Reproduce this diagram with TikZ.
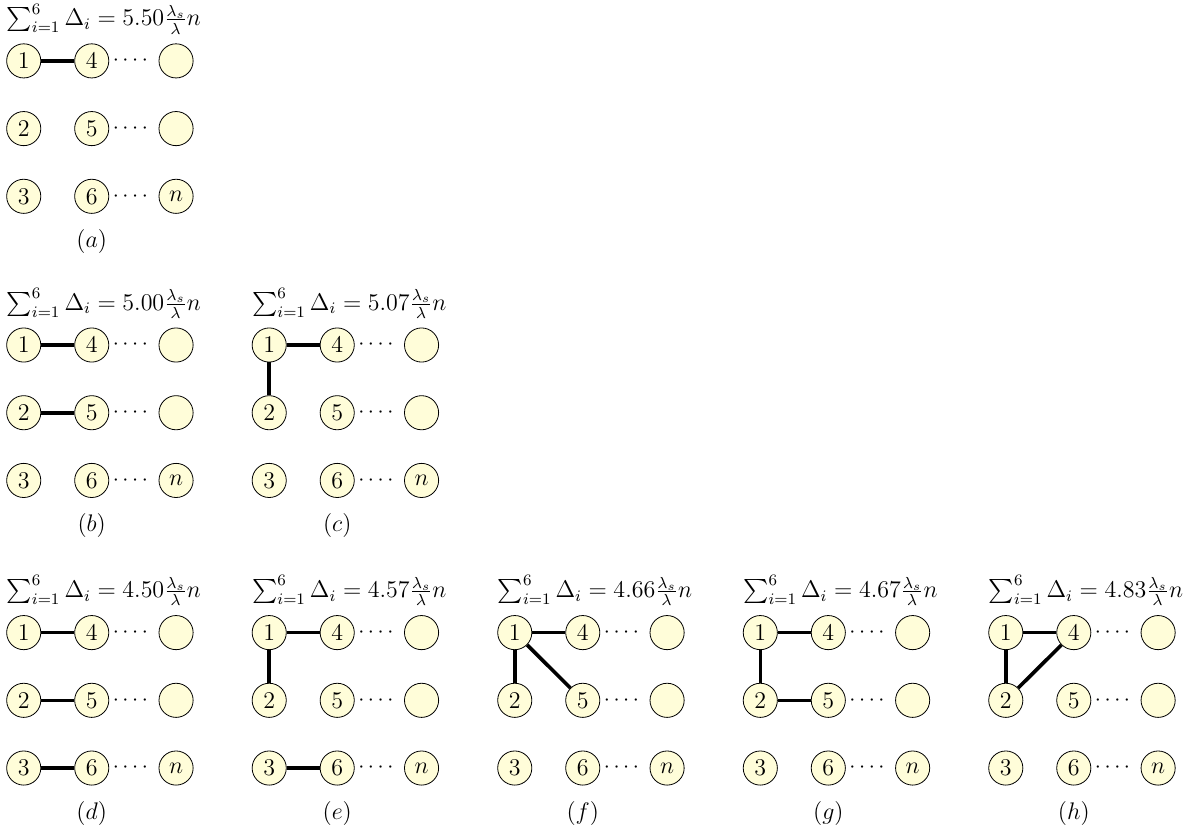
\documentclass[tikz,border=0pt,12pt]{standalone}
\usepackage{amsmath}
\usepackage{amssymb}
\usetikzlibrary{positioning}

\tikzset{
  vtx/.style={circle, draw, fill=yellow!15, minimum size=6mm, inner sep=1.5pt},
  link/.style={line width=1.8pt},
  dots/.style={inner sep=0pt, font=\small},
}

% one panel: name, x, y, value, letter
\newcommand{\drawpanel}[5]{
  \node[vtx] (#1n1) at (#2,#3) {$1$};
  \node[vtx] (#1n2) at (#2,#3-1.19) {$2$};
  \node[vtx] (#1n3) at (#2,#3-2.38) {$3$};
  \node[vtx] (#1n4) at (#2+1.195,#3) {$4$};
  \node[vtx] (#1n5) at (#2+1.195,#3-1.19) {$5$};
  \node[vtx] (#1n6) at (#2+1.195,#3-2.38) {$6$};
  \node[vtx] (#1m1) at (#2+2.677,#3) {};
  \node[vtx] (#1m2) at (#2+2.677,#3-1.19) {};
  \node[vtx] (#1m3) at (#2+2.677,#3-2.38) {$n$};
  \node[dots] (#1d1) at ([xshift=0.68cm]#1n4.center) {$\cdotp\cdotp\cdotp\cdotp$};
  \node[dots] (#1d2) at ([xshift=0.68cm]#1n5.center) {$\cdotp\cdotp\cdotp\cdotp$};
  \node[dots] (#1d3) at ([xshift=0.68cm]#1n6.center) {$\cdotp\cdotp\cdotp\cdotp$};
  \node[anchor=base west, inner sep=0pt] (#1t) at ([yshift=0.615cm]#1n1.west)
    {$\sum_{i=1}^{6}\Delta_i=#4\frac{\lambda_s}{\lambda}n$};
  \node[anchor=base] (#1l) at ([yshift=-0.9cm]#1n6.center) {$(#5)$};
}

\begin{document}
\begin{tikzpicture}
    \useasboundingbox (0,0) rectangle (21.088,-14.603);

    % Panels
    \drawpanel{a}{0.417}{-1.07}{5.50}{a}
    \drawpanel{b}{0.417}{-6.063}{5.00}{b}
    \drawpanel{c}{4.731}{-6.063}{5.07}{c}
    \drawpanel{d}{0.417}{-11.117}{4.50}{d}
    \drawpanel{e}{4.731}{-11.117}{4.57}{e}
    \drawpanel{f}{9.046}{-11.117}{4.66}{f}
    \drawpanel{g}{13.361}{-11.117}{4.67}{g}
    \drawpanel{h}{17.675}{-11.117}{4.83}{h}

    % Links
    \draw[link] (an1) -- (an4);
    \draw[link] (bn1) -- (bn4);
    \draw[link] (bn2) -- (bn5);
    \draw[link] (cn1) -- (cn4);
    \draw[link] (cn1) -- (cn2);
    \draw[link] (dn1) -- (dn4);
    \draw[link] (dn2) -- (dn5);
    \draw[link] (dn3) -- (dn6);
    \draw[link] (en1) -- (en4);
    \draw[link] (en1) -- (en2);
    \draw[link] (en3) -- (en6);
    \draw[link] (fn1) -- (fn4);
    \draw[link] (fn1) -- (fn2);
    \draw[link] (fn1) -- (fn5);
    \draw[link] (gn1) -- (gn4);
    \draw[link] (gn1) -- (gn2);
    \draw[link] (gn2) -- (gn5);
    \draw[link] (hn1) -- (hn4);
    \draw[link] (hn1) -- (hn2);
    \draw[link] (hn2) -- (hn4);
\end{tikzpicture}
\end{document}
